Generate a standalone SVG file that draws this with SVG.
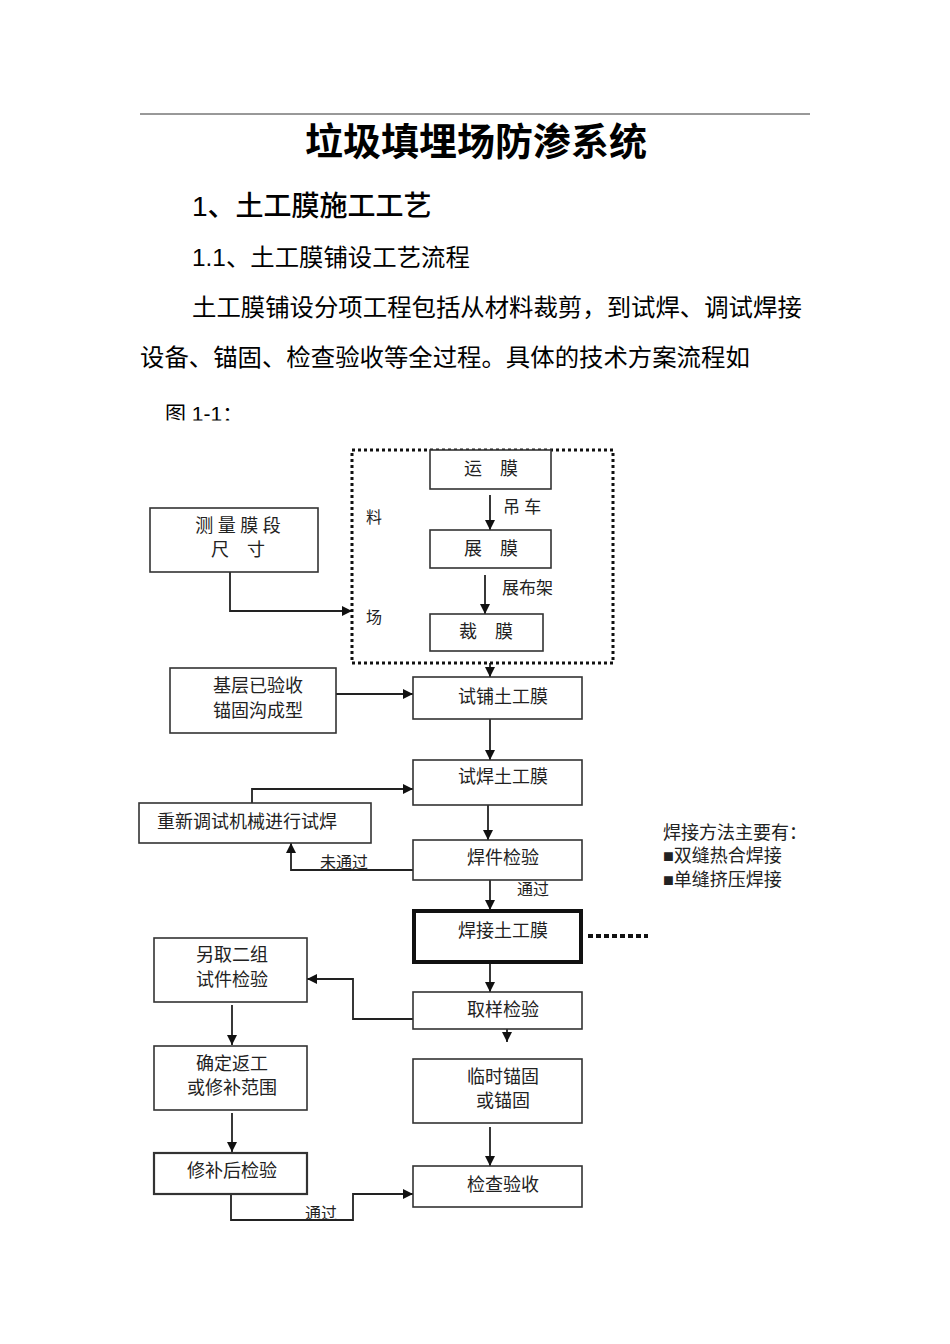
<svg xmlns="http://www.w3.org/2000/svg" width="950" height="1344" viewBox="0 0 950 1344">
<style>
.body{font-family:"Liberation Sans","Noto Sans CJK SC",sans-serif;fill:#000}
.lbl{font-family:"Liberation Serif","Noto Sans CJK SC",serif;font-size:18px;fill:#222;text-anchor:middle}
.sm{font-family:"Liberation Serif","Noto Sans CJK SC",serif;font-size:16px;fill:#222}
.note{font-family:"Liberation Serif","Noto Sans CJK SC",serif;font-size:18px;fill:#222}
.box{fill:#fff;stroke:#333;stroke-width:1.6}
.ln{fill:none;stroke:#222;stroke-width:1.8}
</style>
<defs>
<marker id="ah" viewBox="0 0 10 10" refX="10" refY="5" markerWidth="10" markerHeight="10" markerUnits="userSpaceOnUse" orient="auto"><path d="M0,0 L10,5 L0,10 z" fill="#111"/></marker>
<clipPath id="cl"><rect x="0" y="380" width="950" height="40.5"/></clipPath>
</defs>
<rect width="950" height="1344" fill="#fff"/>
<line x1="140" y1="114" x2="810" y2="114" stroke="#333" stroke-width="1"/>
<text class="body" x="476" y="155" font-size="38" font-weight="bold" text-anchor="middle">垃圾填埋场防渗系统</text>
<text class="body" x="192" y="216" font-size="28" font-weight="500">1、土工膜施工工艺</text>
<text class="body" x="192" y="266" font-size="24.4">1.1、土工膜铺设工艺流程</text>
<text class="body" x="192" y="316" font-size="24.4">土工膜铺设分项工程包括从材料裁剪，到试焊、调试焊接</text>
<text class="body" x="140" y="366" font-size="24.4">设备、锚固、检查验收等全过程。具体的技术方案流程如</text>
<text class="body" x="165" y="421" font-size="21" clip-path="url(#cl)">图 1-1：</text>

<g id="connectors">
<line class="ln" x1="490" y1="495" x2="490" y2="530" marker-end="url(#ah)"/>
<line class="ln" x1="485" y1="575" x2="485" y2="614" marker-end="url(#ah)"/>
<polyline class="ln" points="230,572 230,611 352,611" marker-end="url(#ah)"/>
<line class="ln" x1="490" y1="663" x2="490" y2="677" marker-end="url(#ah)"/>
<line class="ln" x1="336" y1="694" x2="413" y2="694" marker-end="url(#ah)"/>
<line class="ln" x1="490" y1="719" x2="490" y2="760" marker-end="url(#ah)"/>
<polyline class="ln" points="252,803 252,789 413,789" marker-end="url(#ah)"/>
<line class="ln" x1="488" y1="805" x2="488" y2="840" marker-end="url(#ah)"/>
<polyline class="ln" points="413,870 291,870 291,843" marker-end="url(#ah)"/>
<line class="ln" x1="490" y1="880" x2="490" y2="910" marker-end="url(#ah)"/>
<line x1="588" y1="936" x2="648" y2="936" stroke="#111" stroke-width="4" stroke-dasharray="5 3"/>
<line class="ln" x1="490" y1="963" x2="490" y2="992" marker-end="url(#ah)"/>
<polyline class="ln" points="413,1019 353,1019 353,979 307,979" marker-end="url(#ah)"/>
<line class="ln" x1="507" y1="1015" x2="507" y2="1042" marker-end="url(#ah)"/>
<line class="ln" x1="232" y1="1005" x2="232" y2="1045" marker-end="url(#ah)"/>
<line class="ln" x1="232" y1="1113" x2="232" y2="1152" marker-end="url(#ah)"/>
<polyline class="ln" points="231,1194 231,1220 353,1220 353,1194 413,1194" marker-end="url(#ah)"/>
<line class="ln" x1="490" y1="1127" x2="490" y2="1166" marker-end="url(#ah)"/>
</g>

<g id="yard">
<rect x="352" y="450" width="261" height="213" fill="none" stroke="#111" stroke-width="3" stroke-dasharray="3 3"/>
<text class="sm" x="366" y="523">料</text>
<text class="sm" x="366" y="623">场</text>
</g>
<g id="n-yunmo"><rect class="box" x="430" y="450" width="121" height="39"/><text class="lbl" x="491" y="475">运　膜</text></g>
<text class="sm" x="503" y="513" style="font-size:17px">吊 车</text>
<g id="n-zhanmo"><rect class="box" x="430" y="530" width="121" height="38"/><text class="lbl" x="491" y="555">展　膜</text></g>
<text class="sm" x="502" y="594" style="font-size:17px">展布架</text>
<g id="n-caimo"><rect class="box" x="430" y="614" width="113" height="37"/><text class="lbl" x="486" y="638">裁　膜</text></g>
<g id="n-celiang"><rect class="box" x="150" y="508" width="168" height="64"/><text class="lbl" x="238" y="532">测 量 膜 段</text><text class="lbl" x="238" y="556">尺　寸</text></g>
<g id="n-jiceng"><rect class="box" x="170" y="668" width="166" height="65"/><text class="lbl" x="258" y="692">基层已验收</text><text class="lbl" x="258" y="717">锚固沟成型</text></g>
<g id="n-shipu"><rect class="box" x="413" y="677" width="169" height="42"/><text class="lbl" x="503" y="703">试铺土工膜</text></g>
<g id="n-shihan"><rect class="box" x="413" y="760" width="169" height="45"/><text class="lbl" x="503" y="783">试焊土工膜</text></g>
<g id="n-chongxin"><rect class="box" x="139" y="803" width="232" height="40"/><text class="lbl" x="247" y="828">重新调试机械进行试焊</text></g>
<g id="n-hanjian"><rect class="box" x="413" y="840" width="169" height="40"/><text class="lbl" x="503" y="864">焊件检验</text></g>
<text class="sm" x="320" y="868">未通过</text>
<text class="sm" x="517" y="895">通过</text>
<g id="n-hanjie"><rect x="414" y="911" width="167" height="51" fill="#fff" stroke="#111" stroke-width="4"/><text class="lbl" x="503" y="937">焊接土工膜</text></g>
<g id="note">
<text class="note" x="663" y="839">焊接方法主要有：</text>
<text class="note" x="663" y="862">■双缝热合焊接</text>
<text class="note" x="663" y="886">■单缝挤压焊接</text>
</g>
<g id="n-quyang"><rect class="box" x="413" y="992" width="169" height="37"/><text class="lbl" x="503" y="1016">取样检验</text></g>
<g id="n-lingqu"><rect class="box" x="154" y="938" width="153" height="64"/><text class="lbl" x="232" y="961">另取二组</text><text class="lbl" x="232" y="986">试件检验</text></g>
<g id="n-queding"><rect class="box" x="154" y="1046" width="153" height="64"/><text class="lbl" x="232" y="1070">确定返工</text><text class="lbl" x="232" y="1094">或修补范围</text></g>
<g id="n-xiubu"><rect class="box" x="154" y="1153" width="153" height="41" style="stroke-width:2.2"/><text class="lbl" x="232" y="1177">修补后检验</text></g>
<text class="sm" x="305" y="1219">通过</text>
<g id="n-linshi"><rect class="box" x="413" y="1059" width="169" height="64"/><text class="lbl" x="503" y="1083">临时锚固</text><text class="lbl" x="503" y="1107">或锚固</text></g>
<g id="n-jiancha"><rect class="box" x="413" y="1166" width="169" height="41"/><text class="lbl" x="503" y="1191">检查验收</text></g>
</svg>
